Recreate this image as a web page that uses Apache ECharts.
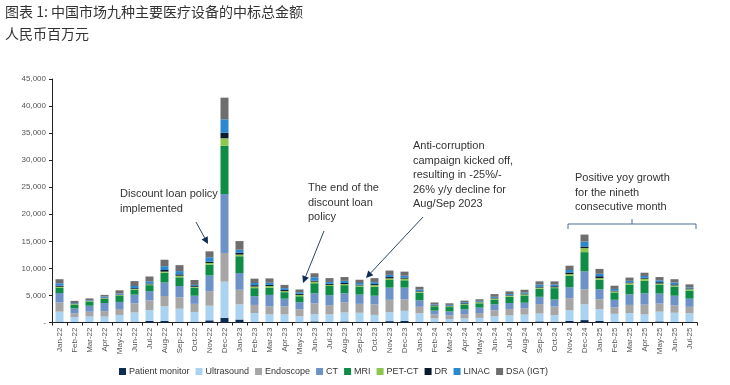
<!DOCTYPE html>
<html><head><meta charset="utf-8">
<script src="https://cdn.jsdelivr.net/npm/echarts@6/dist/echarts.min.js"></script>
<style>html,body{margin:0;padding:0;background:#fff}#c{width:730px;height:385px}</style>
</head><body><div id="c"></div>
<script>
const months = ["Jan-22","Feb-22","Mar-22","Apr-22","May-22","Jun-22","Jul-22","Aug-22","Sep-22","Oct-22","Nov-22","Dec-22",
"Jan-23","Feb-23","Mar-23","Apr-23","May-23","Jun-23","Jul-23","Aug-23","Sep-23","Oct-23","Nov-23","Dec-23",
"Jan-24","Feb-24","Mar-24","Apr-24","May-24","Jun-24","Jul-24","Aug-24","Sep-24","Oct-24","Nov-24","Dec-24",
"Jan-25","Feb-25","Mar-25","Apr-25","May-25","Jun-25","Jul-25"];
const seriesNames = ["Patient monitor","Ultrasound","Endoscope","CT","MRI","PET-CT","DR","LINAC","DSA (IGT)"];
const patientMonitor = [0.15,0.1,0.1,0.1,0.1,0.15,0.3,0.3,0.15,0.15,0.4,0.85, 0.55,0.1,0.1,0.1,0.05,0.2,0.1,0.2,0.1,0.1,0.25,0.3, 0.1,0.05,0.05,0.05,0.05,0.1,0.1,0.1,0.2,0.15,0.3,0.45, 0.3,0.1,0.1,0.15,0.2,0.1,0.1];
const ultrasound = [1.85,0.9,1.0,1.0,1.3,1.7,2.0,2.7,2.4,1.8,2.7,6.7, 2.8,1.65,1.4,1.4,1.1,1.35,1.4,1.65,1.7,1.3,1.65,1.85, 1.6,0.7,0.6,0.7,0.8,1.05,1.2,1.35,1.45,1.2,1.95,2.9, 2.15,1.5,1.65,1.35,1.8,1.7,1.6];
const endoscope = [1.7,0.7,0.9,1.0,1.1,1.7,1.8,1.9,2.1,1.5,2.7,5.3, 2.7,1.5,1.5,1.5,1.3,2.0,1.7,1.9,1.65,1.95,2.3,2.15, 1.2,0.75,0.7,0.8,0.9,1.1,1.2,1.2,1.75,1.6,2.25,2.8, 1.85,1.2,1.5,1.8,1.5,1.35,1.2];
const ct = [1.75,0.9,1.1,1.5,1.3,1.6,1.7,2.5,2.1,1.5,2.9,10.9, 3.1,1.6,2.1,1.4,1.3,1.85,1.85,1.65,1.7,1.6,2.25,2.15, 1.2,0.7,0.7,0.9,1.0,1.1,1.1,1.0,1.35,1.3,2.0,3.3, 1.85,1.4,1.95,2.1,1.85,1.8,1.5];
const mri = [0.95,0.7,0.8,0.8,1.1,0.9,1.1,1.8,1.6,1.5,2.0,8.9, 3.1,1.5,1.35,1.2,1.1,1.85,1.7,1.5,1.5,1.65,1.4,1.35, 1.4,0.8,0.8,0.8,0.8,0.9,1.15,1.35,1.5,2.1,2.15,3.55, 1.75,1.35,1.75,2.3,1.65,1.7,1.5];
const petct = [0.2,0.1,0.1,0.1,0.15,0.15,0.15,0.2,0.3,0.15,0.3,1.4, 0.3,0.3,0.3,0.2,0.25,0.3,0.2,0.2,0.2,0.3,0.3,0.3, 0.2,0.1,0.15,0.15,0.2,0.2,0.2,0.2,0.2,0.15,0.3,0.75, 0.3,0.2,0.3,0.4,0.2,0.2,0.25];
const dr = [0.2,0.1,0.05,0.1,0.1,0.15,0.15,0.3,0.25,0.15,0.25,1.0, 0.35,0.25,0.2,0.2,0.2,0.2,0.2,0.2,0.15,0.2,0.25,0.2, 0.1,0.1,0.1,0.15,0.1,0.1,0.1,0.15,0.2,0.2,0.3,0.3, 0.35,0.15,0.15,0.15,0.25,0.2,0.15];
const linac = [0.45,0.1,0.1,0.2,0.2,0.4,0.4,0.7,0.6,0.2,0.8,2.5, 0.55,0.4,0.4,0.35,0.3,0.6,0.35,0.4,0.3,0.35,0.4,0.35, 0.3,0.15,0.15,0.2,0.15,0.2,0.2,0.2,0.35,0.3,0.45,0.9, 0.45,0.3,0.3,0.35,0.35,0.35,0.2];
const dsa = [0.75,0.4,0.3,0.3,0.6,0.9,0.9,1.2,1.1,0.9,1.1,4.0, 1.6,0.8,0.8,0.6,0.5,0.75,0.7,0.7,0.6,0.75,0.8,0.75, 0.5,0.35,0.3,0.3,0.3,0.5,0.5,0.5,0.6,0.6,0.8,1.3, 0.9,0.6,0.6,0.6,0.6,0.6,0.55];
const yTicks = [0,5000,10000,15000,20000,25000,30000,35000,40000,45000];
const colors = ["#0d2d55","#a9d3f1","#a6a6a6","#6d92c8","#0f8c46","#8dc653","#0a1b30","#2b88cf","#6e6e6e"];

const allData = [patientMonitor, ultrasound, endoscope, ct, mri, petct, dr, linac, dsa];
const chart = echarts.init(document.getElementById('c'), null, {renderer:'canvas'});
const txtFont = 'Liberation Sans';
const annColor = '#333';
const arrowColor = '#2a4766';

function arrow(x1,y1,x2,y2){
  const a = Math.atan2(y2-y1, x2-x1), L=7, W=3.5;
  const bx = x2 - L*Math.cos(a), by = y2 - L*Math.sin(a);
  const px = -Math.sin(a)*W, py = Math.cos(a)*W;
  return [
    {type:'line', shape:{x1:x1,y1:y1,x2:bx,y2:by}, style:{stroke:arrowColor, lineWidth:1}},
    {type:'polygon', shape:{points:[[x2,y2],[bx+px,by+py],[bx-px,by-py]]}, style:{fill:'#0d2d55'}}
  ];
}
function txt(x,y,t){
  return {type:'text', left:x, top:y, style:{text:t, font:'11px "'+txtFont+'"', fill:annColor, lineHeight:14.5}};
}

const option = {
  animation:false,
  backgroundColor:'#fff',
  color: colors,
  title:{ text:'图表 1: 中国市场九种主要医疗设备的中标总金额\n人民币百万元', left:5, top:1, padding:0,
    textStyle:{fontFamily:'"Noto Sans CJK SC"', fontSize:14, fontWeight:'normal', color:'#333', lineHeight:22}},
  grid:{left:52, right:33, top:79, bottom:62.5},
  legend:{ data: seriesNames, left:119, top:367, padding:0, icon:'rect', itemWidth:7, itemHeight:7, itemGap:6,
    textStyle:{fontFamily:txtFont, fontSize:9, color:'#333', padding:[0,0,0,-2]}},
  xAxis:{ type:'category', data: months,
    axisLine:{lineStyle:{color:'#222', width:1}},
    axisTick:{show:true, length:3, lineStyle:{color:'#222'}},
    axisLabel:{rotate:90, fontSize:8, fontFamily:txtFont, color:'#555', margin:5, interval:0}},
  yAxis:{ type:'value', min:0, max:45000, interval:5000,
    axisLine:{show:true, lineStyle:{color:'#222'}},
    axisTick:{show:true, length:3, lineStyle:{color:'#222'}},
    splitLine:{show:false},
    axisLabel:{fontSize:8, fontFamily:txtFont, color:'#555', margin:6,
      formatter: v => v===0 ? '-' : v.toLocaleString('en-US')}},
  series: seriesNames.map((n,i)=>({
    name:n, type:'bar', stack:'total', barWidth:8,
    data: allData[i].map(v=>Math.round(v*1000)),
    itemStyle:{color:colors[i]}
  })),
  graphic: [
    txt(120,187,'Discount loan policy\nimplemented'),
    ...arrow(196,222,208,244),
    txt(308,181,'The end of the\ndiscount loan\npolicy'),
    ...arrow(324,231,303,283),
    txt(413,139,'Anti-corruption\ncampaign kicked off,\nresulting in -25%/-\n26% y/y decline for\nAug/Sep 2023'),
    ...arrow(423,217,366,278),
    txt(575,171,'Positive yoy growth\nfor the nineth\nconsecutive month'),
    {type:'polyline', shape:{points:[[568,229],[568,224],[696,224],[696,229]]}, style:{stroke:'#4c6d8f', lineWidth:1, fill:null}},
    {type:'line', shape:{x1:632,y1:224,x2:632,y2:219}, style:{stroke:'#4c6d8f', lineWidth:1}}
  ]
};
chart.setOption(option);
</script></body></html>
